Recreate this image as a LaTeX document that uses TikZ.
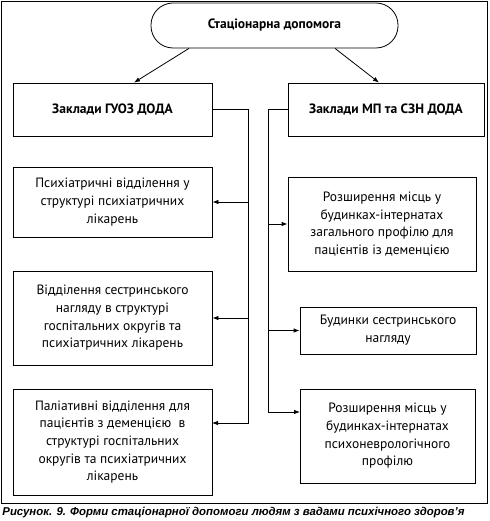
\documentclass[tikz,border=0pt]{standalone}
\usepackage{fontspec}
\setmainfont{PT Sans}
\newfontfamily\capfont{Liberation Sans}
\usetikzlibrary{arrows.meta,calc}
\begin{document}
\begin{tikzpicture}[x=1pt,y=-1pt,
  line width=0.8pt,
  every node/.style={font=\fontsize{13.5}{17.7}\selectfont},
  box/.style={draw, rectangle, align=center, inner sep=2pt},
  arr/.style={-{Latex[length=6pt,width=4.5pt]}},
]
\useasboundingbox (0,0) rectangle (489,521);
\draw (1,1) rectangle (487,503);
\node[box, rounded corners=22pt, minimum width=247pt, minimum height=45pt, font=\fontsize{13.5}{16}\selectfont\bfseries] (top) at (274.5,25.5) {Стаціонарна допомога};
\node[box, minimum width=199pt, minimum height=53pt, font=\fontsize{13.5}{16}\selectfont\bfseries] (L0) at (112.5,109.5) {Заклади ГУОЗ ДОДА};
\node[box, minimum width=196pt, minimum height=53pt, font=\fontsize{13.5}{16}\selectfont\bfseries] (R0) at (386,109.5) {Заклади МП та СЗН ДОДА};
\node[box, minimum width=199pt, minimum height=70pt] (L1) at (112.5,202) {Психіатричні відділення у\\структурі психіатричних\\лікарень};
\node[box, minimum width=199pt, minimum height=94pt] (L2) at (112.5,318) {Відділення сестринського\\нагляду в структурі\\госпітальних округів та\\психіатричних лікарень};
\node[box, minimum width=199pt, minimum height=106pt] (L3) at (112.5,442) {Паліативні відділення для\\пацієнтів з деменцією \ в\\структурі госпітальних\\округів та психіатричних\\лікарень};
\node[box, minimum width=188pt, minimum height=94pt] (R1) at (382,224) {Розширення місць у\\будинках-інтернатах\\загального профілю для\\пацієнтів із деменцією};
\node[box, minimum width=176pt, minimum height=47pt] (R2) at (388,330.5) {Будинки сестринського\\нагляду};
\node[box, minimum width=175pt, minimum height=94pt] (R3) at (387.5,436) {Розширення місць у\\будинках-інтернатах\\психоневрологічного\\профілю};
\coordinate (lbus) at (248,0);
\coordinate (rbus) at (268,0);
\coordinate (l3in) at (212,423);
\coordinate (r3in) at (300,412);
\draw[arr] ([xshift=-85.5pt]top.south) -- ([xshift=21.5pt]L0.north);
\draw[arr] ([xshift=60.5pt]top.south) -- ([xshift=-7pt]R0.north);
\draw[arr] (L0.east) -- (L0.east -| lbus) -- (lbus |- l3in) -- (l3in);
\draw[arr] (L1.east -| lbus) -- (L1.east);
\draw[arr] (L2.east -| lbus) -- (L2.east);
\draw[arr] (R0.west) -- (R0.west -| rbus) -- (rbus |- r3in) -- (r3in);
\draw[arr] (rbus |- R1.west) -- (R1.west);
\draw[arr] (rbus |- R2.west) -- (R2.west);
\node[anchor=west, inner sep=0pt, font=\capfont\fontsize{11.4}{13}\selectfont\bfseries\itshape] (cap) at (2,513) {Рисунок. 9. Форми стаціонарної допомоги людям з вадами психічного здоров’я};
\end{tikzpicture}
\end{document}
